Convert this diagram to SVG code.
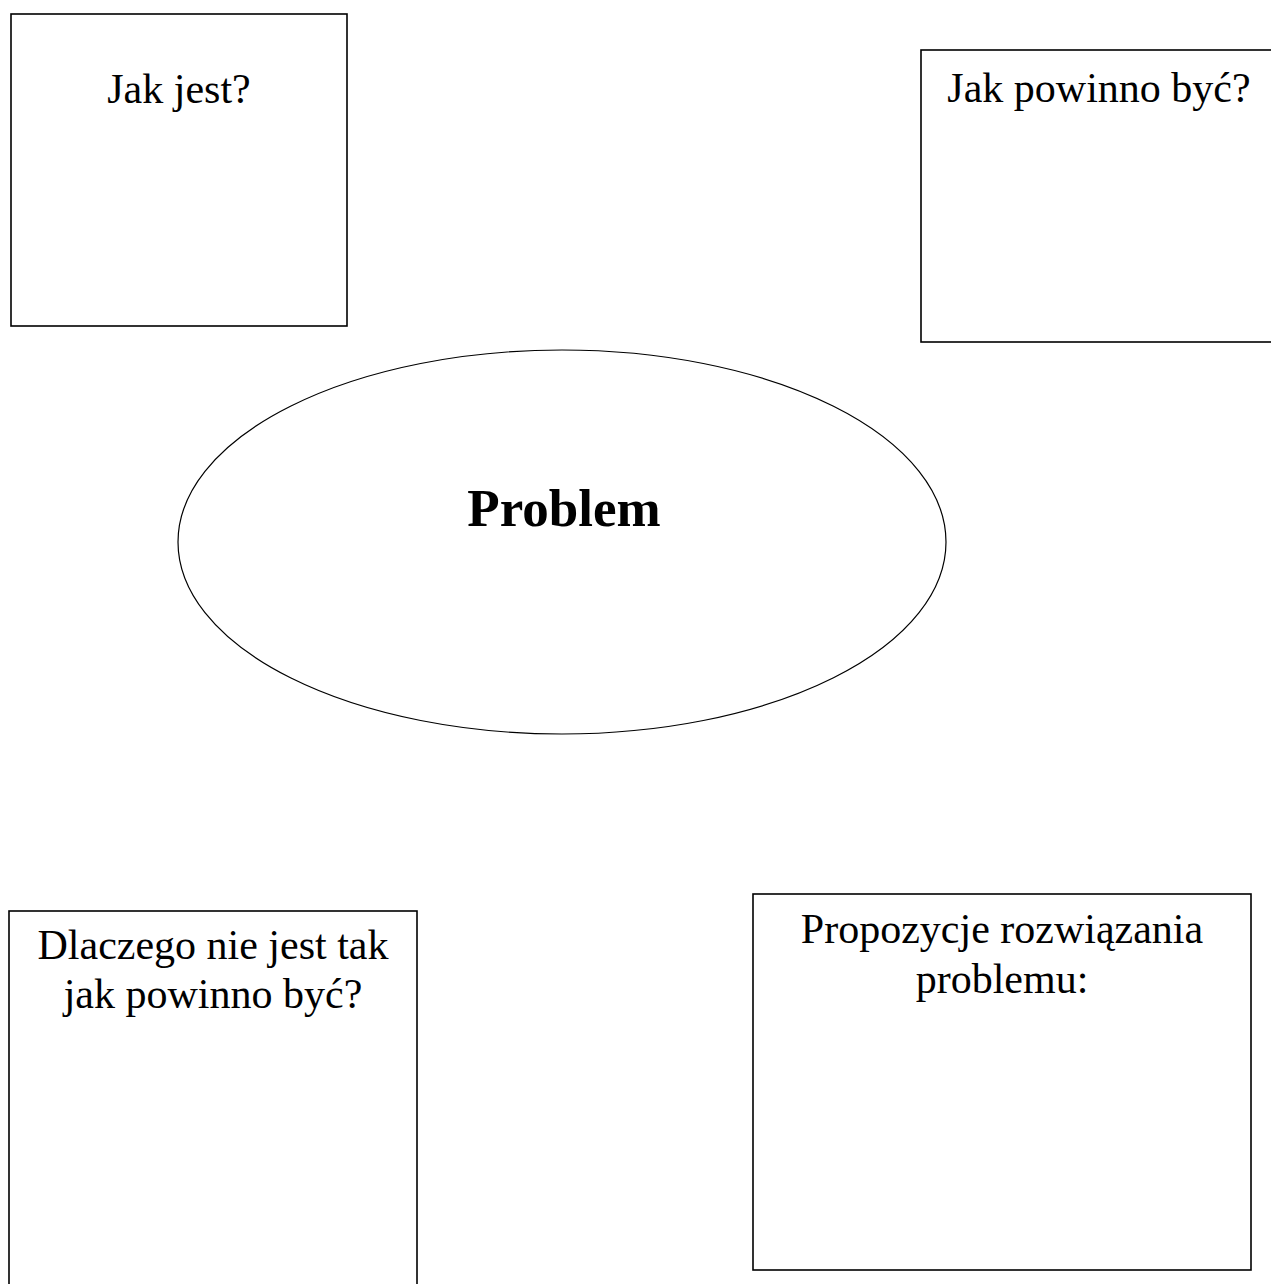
<svg xmlns="http://www.w3.org/2000/svg" width="1271" height="1284" viewBox="0 0 1271 1284">
<style>
.box{fill:#fff;stroke:#000;stroke-width:1.6}
.t{font-family:"Liberation Serif","Times New Roman",serif;font-size:42px;fill:#000;text-anchor:middle}
.b{font-family:"Liberation Serif","Times New Roman",serif;font-size:53px;font-weight:bold;fill:#000;text-anchor:middle}
</style>
<rect width="1271" height="1284" fill="#fff"/>
<g id="connectors"></g>
<g id="jak-jest">
<rect class="box" x="11" y="14" width="336" height="312"/>
<text class="t" x="179" y="103">Jak jest?</text>
</g>
<g id="jak-powinno">
<rect class="box" x="921" y="50" width="360" height="292"/>
<text class="t" x="1099" y="102">Jak powinno być?</text>
</g>
<g id="problem">
<ellipse cx="562" cy="542" rx="384" ry="192" fill="#fff" stroke="#000" stroke-width="1.2"/>
<text class="b" x="564" y="526">Problem</text>
</g>
<g id="dlaczego">
<rect class="box" x="9" y="911" width="408" height="390"/>
<text class="t" x="213" y="959">Dlaczego nie jest tak</text>
<text class="t" x="213" y="1008">jak powinno być?</text>
</g>
<g id="propozycje">
<rect class="box" x="753" y="894" width="498" height="376"/>
<text class="t" x="1002" y="943">Propozycje rozwiązania</text>
<text class="t" x="1002" y="993">problemu:</text>
</g>
</svg>
